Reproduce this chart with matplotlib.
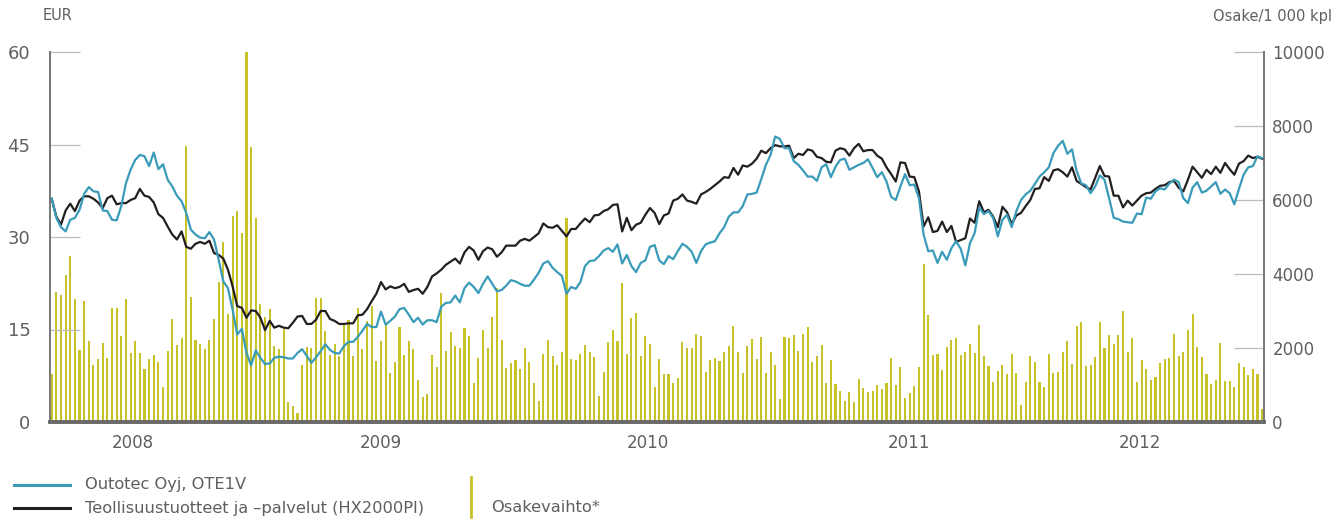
import matplotlib
matplotlib.use('Agg')
import matplotlib.pyplot as plt
from matplotlib.lines import Line2D
import numpy as np

plt.rcParams['font.family'] = ['Liberation Sans Narrow', 'DejaVu Sans']

# weekly observations, first week of the chart = index 0
outotec = [
    36.2, 33.1, 31.6, 30.9, 32.8, 33.1, 34.4, 37.0, 38.1, 37.4, 37.3, 34.3, 34.2, 32.8, 32.7,
    35.0, 38.7, 40.9, 42.5, 43.3, 43.1, 41.5, 43.7, 41.0, 41.8, 39.3, 38.2, 36.7, 35.8, 33.9,
    31.2, 30.4, 29.9, 29.8, 30.8, 29.6, 26.3, 22.8, 21.7, 18.2, 14.2, 15.1, 11.2, 9.2,
    11.6, 10.4, 9.4, 9.5, 10.4, 10.6, 10.5, 10.3, 10.3, 11.2, 11.8, 10.7, 9.6, 10.5, 11.5,
    12.6, 11.7, 11.2, 11.1, 12.3, 13.0, 13.0, 13.8, 14.8, 15.9, 15.4, 15.4, 17.9, 15.8, 16.4,
    17.1, 18.3, 18.5, 17.4, 16.2, 16.9, 15.8, 16.5, 16.5, 16.2, 18.7, 19.3, 19.4,
    20.5, 19.4, 21.7, 22.6, 21.9, 20.9, 22.4, 23.6, 22.4, 21.2, 21.4, 22.1, 23.0, 22.8, 22.4,
    22.1, 22.1, 23.1, 24.2, 25.7, 26.1, 25.0, 24.3, 23.7, 20.8, 21.9, 21.6, 22.7, 25.3, 26.1,
    26.2, 26.9, 27.8, 28.2, 27.6, 28.8, 25.7, 27.1, 25.3, 24.3, 25.8, 26.2, 28.4, 28.7,
    26.2, 25.6, 26.9, 26.4, 27.7, 28.9, 28.4, 27.6, 25.8, 27.7, 28.8, 29.1, 29.3, 30.6, 31.6,
    33.3, 34.0, 34.0, 35.0, 36.9, 37.0, 37.2, 39.4, 41.7, 43.3, 46.3, 45.9, 44.4, 44.4, 42.3,
    41.7, 40.8, 39.8, 39.8, 39.1, 41.3, 41.8, 39.7, 41.4, 42.5, 42.7, 40.9, 41.3,
    41.7, 42.0, 42.6, 41.2, 39.7, 40.5, 39.0, 36.5, 36.0, 38.2, 40.2, 38.4, 38.5, 36.3, 30.4,
    27.7, 27.8, 25.8, 27.6, 26.3, 28.2, 29.3, 28.1, 25.4, 29.0, 30.6, 34.8, 33.7, 34.2, 33.1,
    30.1, 32.8, 33.6, 31.6, 34.2, 36.0, 36.9, 37.5, 38.6, 39.8, 40.5, 41.3, 43.6,
    44.8, 45.6, 43.5, 44.2, 40.7, 38.7, 38.4, 37.1, 38.2, 40.0, 39.3, 36.3, 33.1, 32.9, 32.5,
    32.4, 32.3, 33.8, 33.7, 36.4, 36.2, 37.4, 37.9, 37.7, 38.7, 39.3, 38.9, 36.3, 35.5, 38.0,
    38.9, 37.2, 37.5, 38.2, 38.9, 37.0, 37.7, 37.1, 35.3, 37.8, 40.1, 41.3, 41.5, 43.1, 42.8,
]

hx2000pi = [
    36.2, 33.3, 32.0, 34.3, 35.4, 34.2, 35.9, 36.6, 36.6, 36.2, 35.6, 34.7, 36.3, 36.7, 35.3,
    35.5, 35.5, 36.0, 36.3, 37.8, 36.7, 36.5, 35.6, 33.7, 33.1, 31.7, 30.4, 29.6, 30.9, 28.4,
    28.1, 28.9, 29.2, 28.9, 29.4, 27.4, 27.1, 26.5, 24.7, 22.0, 18.8, 18.5, 16.9, 18.1,
    18.0, 16.9, 14.9, 16.4, 15.3, 15.6, 15.3, 15.2, 16.1, 17.1, 17.2, 15.9, 15.9, 16.6, 18.0,
    18.0, 16.7, 16.4, 15.9, 15.9, 16.0, 16.0, 17.3, 17.4, 18.3, 19.6, 20.8, 22.7, 21.5, 22.0,
    21.7, 21.9, 22.4, 21.1, 21.4, 21.6, 20.8, 21.9, 23.6, 24.1, 24.7, 25.5, 26.0,
    26.5, 25.7, 27.5, 28.4, 27.8, 26.3, 27.7, 28.3, 28.0, 26.8, 27.5, 28.6, 28.6, 28.6, 29.4,
    29.7, 29.4, 30.0, 30.6, 32.2, 31.6, 31.5, 31.9, 31.0, 30.1, 31.3, 31.3, 32.2, 33.0, 32.4,
    33.5, 33.6, 34.2, 34.5, 35.2, 35.3, 30.9, 33.1, 31.1, 32.0, 32.3, 33.6, 34.7, 33.9,
    32.1, 33.5, 33.8, 35.9, 36.2, 36.9, 35.9, 35.7, 35.4, 36.9, 37.3, 37.8, 38.4, 39.0, 39.7,
    39.6, 41.2, 40.1, 41.6, 41.4, 41.9, 42.7, 44.0, 43.6, 44.4, 44.9, 44.7, 44.7, 44.8, 42.8,
    43.5, 43.3, 44.2, 44.0, 43.0, 42.8, 42.2, 42.1, 44.0, 44.4, 44.2, 43.2, 44.4,
    45.1, 43.9, 44.1, 44.1, 43.2, 42.7, 41.3, 40.2, 39.0, 42.1, 42.0, 39.8, 39.7, 37.4, 31.7,
    33.2, 30.8, 31.0, 32.5, 30.8, 31.8, 29.2, 29.5, 29.8, 33.0, 32.3, 35.8, 34.0, 34.4, 33.3,
    31.6, 34.9, 34.0, 32.1, 33.5, 33.9, 35.0, 36.0, 37.8, 37.9, 39.7, 39.1, 40.8,
    41.0, 40.5, 39.8, 41.3, 39.1, 38.6, 38.1, 37.7, 39.6, 41.5, 39.9, 39.8, 36.7, 36.7, 34.8,
    35.9, 35.1, 35.9, 36.7, 37.1, 37.2, 37.8, 38.3, 38.4, 38.9, 39.1, 38.0, 37.4, 39.3, 41.4,
    40.5, 39.6, 40.9, 40.2, 41.4, 40.4, 42.0, 41.0, 40.1, 41.9, 42.3, 43.2, 42.8, 43.0, 42.7,
]

# weekly share turnover, 1 000 shares
turnover = [
    1290, 3516, 3444, 3983, 4496, 3336, 1933, 3282, 2176, 1528, 1690, 2122, 1717, 3093, 3093,
    2337, 3336, 1852, 2176, 1852, 1420, 1690, 1798, 1609, 935, 1906, 2796, 2068, 2283, 7462,
    3390, 2203, 2095, 1960, 2203, 2796, 3794, 4873, 2931, 5574, 5709, 5115, 10000, 7435,
    5520, 3200, 2850, 3066, 2041, 1960, 2526, 530, 423, 234, 1528, 2014, 1987, 3362, 3362,
    2472, 1798, 2095, 1771, 2634, 2769, 1771, 3093, 1960, 2742, 3147, 1636, 2176, 2634, 1312,
    1609, 2580, 1798, 2176, 1960, 1124, 665, 746, 1798, 1474, 3497, 1906, 2445,
    2041, 1987, 2553, 2337, 1043, 1717, 2499, 1987, 2850, 3632, 2203, 1447, 1582, 1663, 1420,
    1987, 1609, 1043, 557, 1825, 2203, 1771, 1528, 1879, 5520, 1690, 1663, 1825, 2068, 1879,
    1744, 692, 1339, 2149, 2499, 2176, 3767, 1825, 2823, 2958, 1771, 2337, 2095, 935,
    1690, 1286, 1286, 1043, 1178, 2149, 1987, 1987, 2391, 2337, 1339, 1663, 1717, 1636, 1879,
    2041, 2607, 1879, 1312, 2041, 2256, 1690, 2310, 1312, 1879, 1528, 611, 2310, 2283, 2364,
    1906, 2391, 2580, 1609, 1771, 2068, 1043, 1663, 1016, 827, 557, 800, 530,
    1151, 908, 800, 827, 989, 881, 1043, 1717, 989, 1474, 638, 773, 962, 1474, 4279,
    2904, 1798, 1825, 1393, 2014, 2229, 2283, 1798, 1879, 2095, 1852, 2634, 1771, 1501, 1070,
    1366, 1528, 1286, 1825, 1312, 450, 1070, 1771, 1609, 1070, 935, 1825, 1312,
    1339, 1879, 2176, 1555, 2607, 2715, 1501, 1528, 1744, 2715, 1987, 2364, 2095, 2364, 3012,
    1879, 2283, 1070, 1663, 1420, 1124, 1205, 1582, 1690, 1717, 2391, 1771, 1879, 2499, 2931,
    2014, 1744, 1286, 1016, 1124, 2122, 1097, 1097, 935, 1582, 1474, 1259, 1420, 1286, 342,
]

years = ['2008', '2009', '2010', '2011', '2012']
year_pos = [17.5, 71.0, 128.6, 184.9, 234.7]   # week index where each label sits

eur_ticks = [0, 15, 30, 45, 60]
vol_ticks = [0, 2000, 4000, 6000, 8000, 10000]

C_BLUE = '#3a9bb9'
C_BLACK = '#231f20'
C_BAR = '#c6c228'
C_TEXT = '#5f5f5f'
C_SPINE = '#7a7a7a'
C_TICK = '#bcbcbc'

weeks = np.arange(len(turnover))

fig = plt.figure(figsize=(13.34, 5.2), dpi=100)
ax = fig.add_axes([50 / 1334, 98 / 520, 1214 / 1334, 370 / 520])
ax2 = ax.twinx()
ax.set_zorder(ax2.get_zorder() + 1)
ax.patch.set_visible(False)

# --- turnover bars (right axis) ---
ax2.bar(weeks, turnover, width=0.45, color=C_BAR, linewidth=0, zorder=1)
ax2.set_ylim(0, 10000)
ax2.set_yticks(vol_ticks)
ax2.set_yticklabels([str(v) for v in vol_ticks])

# --- price lines (left axis) ---
ax.plot(weeks[:len(hx2000pi)], hx2000pi, color=C_BLACK, lw=1.6, zorder=3)
ax.plot(weeks[:len(outotec)], outotec, color=C_BLUE, lw=1.6, zorder=4)
ax.set_ylim(0, 60)
ax.set_yticks(eur_ticks)
ax.set_xlim(-0.37, 261.4)
ax.set_xticks(year_pos)
ax.set_xticklabels(years)

# --- axes styling ---
for a in (ax, ax2):
    a.spines['top'].set_visible(False)
    a.spines['left'].set_color(C_SPINE)
    a.spines['right'].set_color(C_SPINE)
    a.spines['left'].set_linewidth(1.4)
    a.spines['right'].set_linewidth(1.4)
    a.spines['bottom'].set_color('#6a6a6a')
    a.spines['bottom'].set_linewidth(2.6)

ax.tick_params(axis='y', direction='in', length=21.5, width=0.9, color=C_TICK,
               labelsize=13, labelcolor=C_TEXT, pad=14)
ax2.tick_params(axis='y', direction='in', length=21.5, width=0.9, color=C_TICK,
                labelsize=12, labelcolor=C_TEXT, pad=6)
ax.tick_params(axis='x', length=0, labelsize=12, labelcolor=C_TEXT, pad=9)
ax2.tick_params(axis='x', length=0)

# --- axis titles ---
fig.text(43 / 1334, 1 - 16 / 520, 'EUR', fontsize=10.5, color=C_TEXT, ha='left', va='center')
fig.text(1332 / 1334, 1 - 16 / 520, 'Osake/1 000 kpl', fontsize=10.5, color=C_TEXT,
         ha='right', va='center')

# --- legend, drawn by hand ---
fig.add_artist(Line2D([14 / 1334, 70 / 1334], [1 - 485 / 520] * 2, color=C_BLUE, lw=2.2))
fig.add_artist(Line2D([14 / 1334, 70 / 1334], [1 - 508 / 520] * 2, color=C_BLACK, lw=2.2))
fig.add_artist(Line2D([471 / 1334] * 2, [1 - 477 / 520, 1 - 517 / 520], color=C_BAR, lw=2))
fig.text(85 / 1334, 1 - 485 / 520, 'Outotec Oyj, OTE1V', fontsize=11.7, color=C_TEXT, va='center')
fig.text(85 / 1334, 1 - 508 / 520, 'Teollisuustuotteet ja –palvelut (HX2000PI)', fontsize=11.7,
         color=C_TEXT, va='center')
fig.text(491 / 1334, 1 - 508 / 520, 'Osakevaihto*', fontsize=11.7, color=C_TEXT, va='center')

fig.savefig('out.png', dpi=100)
plt.close(fig)
